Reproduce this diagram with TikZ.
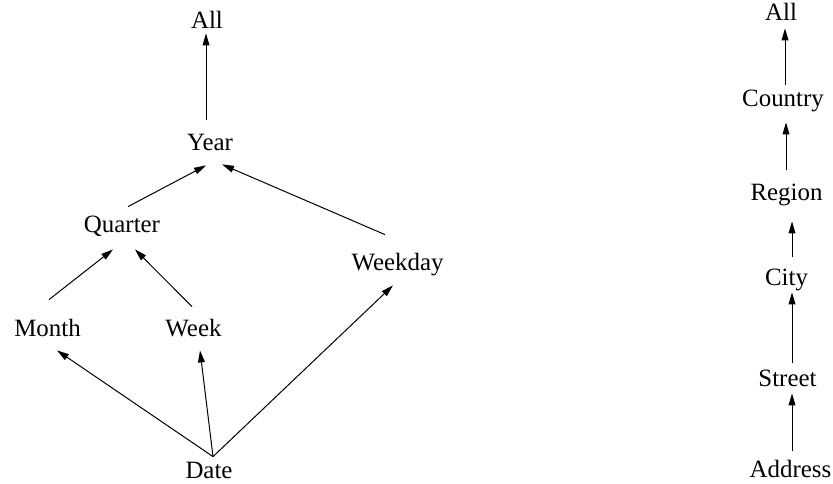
\documentclass[tikz,border=0pt]{standalone}
\usepackage{fontspec}
\setmainfont{Liberation Serif}
\usetikzlibrary{arrows.meta}
\begin{document}
\begin{tikzpicture}[x=0.5pt,y=-0.5pt,
  lbl/.style={inner sep=0pt, anchor=base, text height=8.7pt, text depth=2.5pt,
              font=\fontsize{12.45}{15}\selectfont},
  arr/.style={-{Triangle[length=6pt,width=3.4pt]}, line width=0.5pt}]
\useasboundingbox (0,0) rectangle (833,483);

% time hierarchy
\node[lbl] (all)     at (207,28)    {All};
\node[lbl] (year)    at (210,150)   {Year};
\node[lbl] (quarter) at (122,232)   {Quarter};
\node[lbl] (weekday) at (397.5,270) {Weekday};
\node[lbl] (month)   at (47.5,336)  {Month};
\node[lbl] (week)    at (193.5,336) {Week};
\node[lbl] (date)    at (209,478)   {Date};

\draw[arr] ([shift={(-4,-12.6)}]year.north)    -- ([shift={(-1,0)}]all.south);
\draw[arr] ([shift={(6,-7.6)}]quarter.north)   -- ([shift={(-4,10)}]year.south);
\draw[arr] ([shift={(-12.5,-17.6)}]weekday.north) -- ([shift={(12,9)}]year.south);
\draw[arr] ([shift={(1.5,-18.6)}]month.north)  -- ([shift={(-9,12)}]quarter.south);
\draw[arr] ([shift={(-1.5,-11.6)}]week.north)  -- ([shift={(13,12)}]quarter.south);
\draw[arr] ([shift={(4,-3.6)}]date.north)      -- ([shift={(9.5,9)}]month.south);
\draw[arr] ([shift={(4,-3.6)}]date.north)      -- ([shift={(6.5,9)}]week.south);
\draw[arr] ([shift={(4,-3.6)}]date.north)      -- ([shift={(-4.5,10)}]weekday.south);

% location hierarchy
\node[lbl] (all2)    at (781,20)    {All};
\node[lbl] (country) at (783,106)   {Country};
\node[lbl] (region)  at (786.5,200) {Region};
\node[lbl] (city)    at (786.5,285) {City};
\node[lbl] (street)  at (787.5,386) {Street};
\node[lbl] (address) at (790.5,477) {Address};

\draw[arr] ([shift={(2,-3.6)}]country.north)  -- ([shift={(4,3)}]all2.south);
\draw[arr] ([shift={(-0.5,-12.6)}]region.north) -- ([shift={(3,11)}]country.south);
\draw[arr] ([shift={(5.5,-10.6)}]city.north)  -- ([shift={(5.5,16)}]region.south);
\draw[arr] ([shift={(4.5,-5.6)}]street.north) -- ([shift={(5.5,2)}]city.south);
\draw[arr] ([shift={(1.5,-8.6)}]address.north) -- ([shift={(4.5,2)}]street.south);
\end{tikzpicture}
\end{document}
